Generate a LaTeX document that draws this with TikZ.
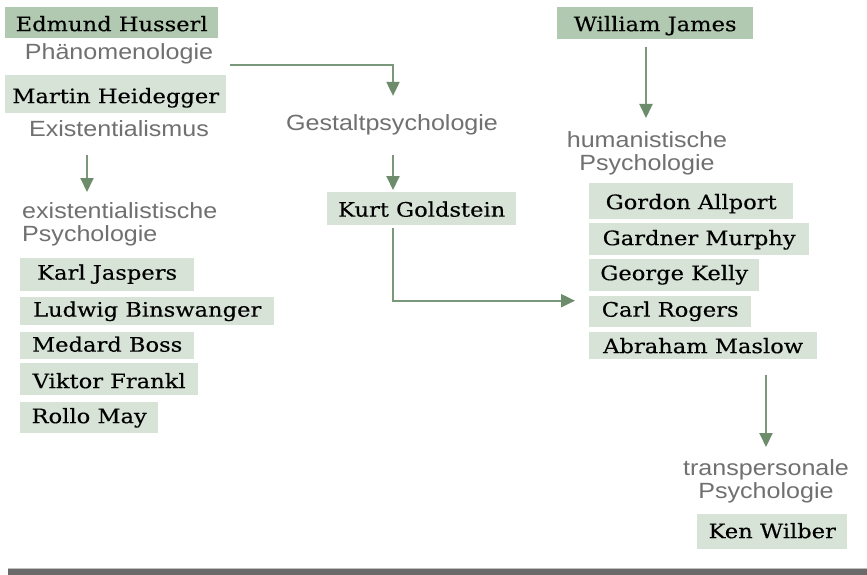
\documentclass[tikz,border=0pt]{standalone}
\usepackage{fontspec}
\usetikzlibrary{arrows.meta}
\newfontfamily\boxfont[FakeStretch=1.13,FakeBold=0.25]{DejaVu Serif}
\newfontfamily\labfont[FakeStretch=1.14]{Liberation Sans}
\definecolor{boxdark}{RGB}{176,201,176}
\definecolor{boxlight}{RGB}{214,227,214}
\definecolor{linecol}{RGB}{122,153,122}
\definecolor{headcol}{RGB}{108,140,108}
\definecolor{labcol}{RGB}{112,112,112}
\definecolor{barcol}{RGB}{106,106,106}
\tikzset{
  person/.style={fill=boxlight, inner sep=0pt, anchor=north west, font=\boxfont\fontsize{20}{22}\selectfont, text height=15pt, text depth=5pt, text=black},
  persondark/.style={person, fill=boxdark},
  lab/.style={inner sep=0pt, text=labcol, font=\labfont\fontsize{22}{23.5}\selectfont},
  arr/.style={draw=linecol, line width=2pt, -{Triangle[width=13pt,length=14pt,fill=headcol,color=headcol]}},
}
\begin{document}
\begin{tikzpicture}[x=1pt,y=-1pt]
\useasboundingbox (0,0) rectangle (867,575);
\fill[white] (0,0) rectangle (867,575);
% left column
\node[persondark, minimum width=213pt, minimum height=31pt, text height=22pt] (husserl) at (5,7) {Edmund Husserl};
\node[lab, anchor=base] (phaen) at (119,60) {Phänomenologie};
\node[person, minimum width=221pt, minimum height=38pt, text height=23pt] (heidegger) at (5,75) {Martin Heidegger};
\node[lab, anchor=base] (exist) at (119,137) {Existentialismus};
\node[lab, anchor=north west, align=left] (existpsy) at (22,202) {existentialistische\\Psychologie};
\node[person, minimum width=174pt, minimum height=33pt] (jaspers) at (20,258) {Karl Jaspers};
\node[person, minimum width=254pt, minimum height=28pt, text height=16pt] (binswanger) at (20,297) {Ludwig Binswanger};
\node[person, minimum width=174pt, minimum height=27pt, text height=17pt] (boss) at (20,332) {Medard Boss};
\node[person, minimum width=178pt, minimum height=32pt, text height=23pt] (frankl) at (20,363) {Viktor Frankl};
\node[person, minimum width=138pt, minimum height=31pt, text height=16pt] (may) at (20,402) {Rollo May};
% middle column
\node[lab, anchor=base] (gestalt) at (392,131) {Gestaltpsychologie};
\node[person, minimum width=189pt, minimum height=33pt, text height=21pt] (goldstein) at (327,192) {Kurt Goldstein};
% right column
\node[persondark, minimum width=196pt, minimum height=32pt, text height=21pt] (james) at (557,7) {William James};
\node[lab, anchor=north, align=center] (humanist) at (647,131) {humanistische\\Psychologie};
\node[person, minimum width=204pt, minimum height=36pt, text height=21pt] (allport) at (589,183) {Gordon Allport};
\node[person, minimum width=220pt, minimum height=32pt, text height=17pt] (murphy) at (589,223) {Gardner Murphy};
\node[person, minimum width=170pt, minimum height=32pt] (kelly) at (589,259) {George Kelly};
\node[person, minimum width=162pt, minimum height=31pt] (rogers) at (589,296) {Carl Rogers};
\node[person, minimum width=228pt, minimum height=27pt, text height=20pt] (maslow) at (589,332) {Abraham Maslow};
\node[lab, anchor=north, align=center] (transp) at (766,459) {transpersonale\\Psychologie};
\node[person, minimum width=150pt, minimum height=35pt, text height=18pt] (wilber) at (697,514) {Ken Wilber};
% column coordinates
\coordinate (colA) at (87,0);
\coordinate (colB) at (393,0);
\coordinate (colC) at (646,0);
\coordinate (colD) at (766,0);
\coordinate (s1) at (230,65);
% connectors
\draw[arr, shorten >=19pt] (s1) -| (gestalt.north -| colB);
\draw[arr, shorten <=18pt, shorten >=10pt] (exist.south -| colA) -- (existpsy.north -| colA);
\draw[arr, shorten <=19pt, shorten >=2pt] (gestalt.south -| colB) -- (goldstein.north -| colB);
\draw[arr, shorten <=3pt, shorten >=14pt] (goldstein.south -| colB) |- ([yshift=11pt]rogers.west);
\draw[arr, shorten <=8pt, shorten >=13pt] (james.south -| colC) -- (humanist.north -| colC);
\draw[arr, shorten <=16pt, shorten >=12pt] (maslow.south -| colD) -- (transp.north -| colD);
% bottom bar
\fill[barcol] (8,569) rectangle (867,575);
\draw[black!25, line width=1pt] (8,568.5) -- (867,568.5);
\end{tikzpicture}
\end{document}
